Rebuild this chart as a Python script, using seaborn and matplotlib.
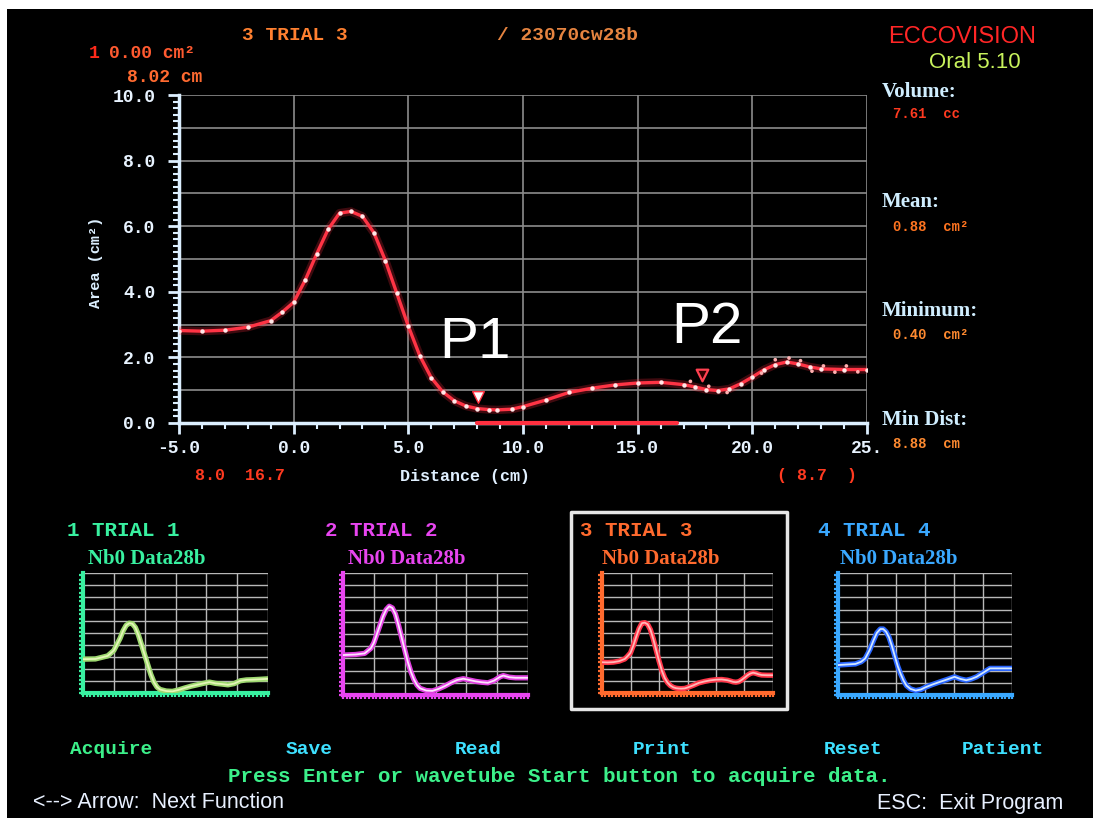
import numpy as np
import pandas as pd
import matplotlib
matplotlib.use("Agg")
import matplotlib.pyplot as plt
import matplotlib.font_manager as fm
from matplotlib.patches import Rectangle
import seaborn as sns

# ---------------- data ----------------
dist = [-5, -4, -3, -2, -1, -0.5, 0, 0.5, 1, 1.5, 2, 2.5, 3, 3.5, 4, 4.5, 5, 5.5, 6,
        6.5, 7, 7.5, 8, 8.5, 8.88, 9.5, 10, 11, 12, 13, 14, 15, 16, 17, 17.5, 18,
        18.5, 19, 19.5, 20, 20.5, 21, 21.5, 22, 22.5, 23, 24, 25]
area_trial3 = [2.82, 2.80, 2.83, 2.92, 3.12, 3.38, 3.68, 4.35, 5.15, 5.90, 6.40, 6.45,
               6.30, 5.80, 4.95, 3.95, 2.95, 2.05, 1.38, 0.95, 0.68, 0.52, 0.44, 0.41,
               0.40, 0.42, 0.50, 0.70, 0.93, 1.06, 1.16, 1.22, 1.24, 1.17, 1.10, 1.02,
               0.99, 1.04, 1.20, 1.40, 1.62, 1.78, 1.86, 1.80, 1.71, 1.65, 1.63, 1.63]

raw_x = [17.3, 18.1, 18.9, 20.4, 21.0, 21.6, 22.1, 22.6, 23.1, 23.6, 24.1, 24.6]
raw_y = [1.27, 1.12, 0.93, 1.52, 1.93, 1.98, 1.90, 1.58, 1.74, 1.55, 1.74, 1.56]

t1_x = [-5, -3, -1, 0, 1, 1.5, 2, 2.5, 3, 3.5, 4, 4.5, 5, 5.5, 6, 6.5, 7, 7.5, 8.5, 9.5,
        10.5, 11.5, 12.5, 13.5, 14.5, 15.5, 16.5, 17.5, 18.5, 19.5, 20.5, 21.5, 22.5,
        23.5, 25]
t1_y = [3.1, 3.12, 3.4, 3.9, 5.0, 5.7, 6.2, 6.4, 6.35, 6.0, 5.3, 4.4, 3.5, 2.6, 1.7,
        1.0, 0.55, 0.32, 0.18, 0.15, 0.28, 0.46, 0.62, 0.75, 0.88, 1.0, 0.88, 0.82,
        0.75, 0.86, 1.12, 1.2, 1.22, 1.25, 1.3]

t2_x = [-5, -3, -1.5, -0.5, 0, 0.5, 1, 1.5, 2, 2.5, 3, 3.5, 4, 4.5, 5, 5.5, 6, 6.5, 7,
        7.5, 8.5, 9.5, 10.5, 11.5, 12.5, 13.5, 14.5, 15.5, 16.5, 17.5, 18.5, 19.5,
        20.5, 21, 22, 23, 25]
t2_y = [3.6, 3.65, 3.75, 4.2, 4.7, 5.5, 6.3, 7.1, 7.7, 8.0, 7.85, 7.3, 6.3, 5.2, 4.1,
        3.0, 2.1, 1.4, 0.9, 0.6, 0.4, 0.37, 0.55, 0.8, 1.1, 1.35, 1.47, 1.35, 1.23,
        1.15, 1.1, 1.3, 1.65, 1.75, 1.6, 1.55, 1.55]

t4_x = [-5, -2, -1, -0.3, 0.5, 1.1, 1.7, 2.3, 2.8, 3.3, 3.8, 4.3, 4.8, 5.3, 5.8, 6.3,
        6.8, 7.5, 8.4, 9.3, 10.1, 11.3, 12.5, 13.8, 15.1, 16.1, 17.1, 18.0, 18.9, 20.0,
        21.2, 23, 25]
t4_y = [2.7, 2.8, 3.0, 3.3, 4.1, 4.9, 5.6, 5.95, 5.95, 5.7, 5.2, 4.4, 3.5, 2.6, 1.9,
        1.3, 0.85, 0.55, 0.4, 0.5, 0.7, 0.95, 1.17, 1.4, 1.64, 1.45, 1.33, 1.45, 1.64,
        2.0, 2.4, 2.4, 2.4]

x_ticks = [-5, 0, 5, 10, 15, 20, 25]
x_tick_labels = ["-5.0", "0.0", "5.0", "10.0", "15.0", "20.0", "25."]
y_ticks = [0, 2, 4, 6, 8, 10]
y_tick_labels = ["0.0", "2.0", "4.0", "6.0", "8.0", "10.0"]

span = [8.0, 16.7]          # highlighted distance range on the axis
cursor_p1 = (8.02, 0.80)
cursor_p2 = (17.8, 1.45)

# ---------------- fonts ----------------
def pick(*names):
    for n in names:
        try:
            fm.findfont(fm.FontProperties(family=n), fallback_to_default=False)
            return n
        except Exception:
            pass
    return "DejaVu Sans"

sns.set_theme(style="dark", rc={"axes.facecolor": "black", "figure.facecolor": "white"})
MONO = pick("Liberation Mono", "DejaVu Sans Mono")
SERIF = pick("Liberation Serif", "DejaVu Serif")
SANS = pick("Liberation Sans", "DejaVu Sans")
NARROW = pick("Liberation Sans Narrow", "Liberation Sans", "DejaVu Sans")
plt.rcParams["font.family"] = [SANS, "DejaVu Sans"]

W, H = 1100, 823
fig = plt.figure(figsize=(W / 100, H / 100), dpi=100)
fig.patch.set_facecolor("white")
fig.add_artist(Rectangle((7 / W, 5 / H), (1093 - 7) / W, (814 - 5) / H,
                         transform=fig.transFigure, facecolor="black",
                         edgecolor="none", zorder=-10))


def ftext(px, py, s, **kw):
    kw.setdefault("va", "center")
    fig.text(px / W, 1 - py / H, s, **kw)


def axes_px(left, right, top, bottom):
    return fig.add_axes([left / W, 1 - bottom / H, (right - left) / W, (bottom - top) / H])


GRID = "#8c8c8c"
AXIS = "#dcefff"

# ---------------- main trace ----------------
ax = axes_px(179, 867, 95, 423)
ax.set_facecolor("black")
ax.set_xlim(-5, 25)
ax.set_ylim(0, 10)
for gx in [0, 5, 10, 15, 20, 25]:
    ax.axvline(gx, color=GRID, lw=1.2, zorder=1)
for gy in range(1, 11):
    ax.axhline(gy, color=GRID, lw=1.2, zorder=1)

df3 = pd.DataFrame({"dist": dist, "area": area_trial3})
sns.lineplot(data=df3, x="dist", y="area", ax=ax, color="#ff2a3c", lw=6, alpha=0.25,
             zorder=3, legend=False)
sns.lineplot(data=df3, x="dist", y="area", ax=ax, color="#ff3445", lw=2.4,
             marker="o", markersize=3.2, markerfacecolor="#ffe8e8",
             markeredgecolor="none", zorder=4, legend=False)
sns.scatterplot(x=raw_x, y=raw_y, ax=ax, color="#ffb0b0", s=7, edgecolor="none", zorder=4)

ax.scatter([cursor_p1[0]], [cursor_p1[1]], marker="v", s=70, facecolor="white",
           edgecolor="#ff3040", linewidth=1, zorder=6)
ax.scatter([cursor_p2[0]], [cursor_p2[1]], marker="v", s=70, facecolor="#300000",
           edgecolor="#ff4050", linewidth=1.6, zorder=6)
ax.text(7.9, 2.45, "P1", fontsize=42, color="white", ha="center", va="center", family=SANS)
ax.text(18.0, 2.9, "P2", fontsize=42, color="white", ha="center", va="center", family=SANS)

for side in ["top", "right"]:
    ax.spines[side].set_visible(False)
for side in ["left", "bottom"]:
    ax.spines[side].set_visible(True)
    ax.spines[side].set_color(AXIS)
    ax.spines[side].set_linewidth(2.5)
ax.plot(span, [0, 0], color="#ff3040", lw=3, clip_on=False, zorder=7)

ax.set_xticks(x_ticks)
ax.set_xticklabels(x_tick_labels)
ax.set_yticks(y_ticks)
ax.set_yticklabels(y_tick_labels)
ax.set_xticks(np.arange(-5, 25.01, 1), minor=True)
ax.set_yticks(np.arange(0, 10.01, 0.2), minor=True)
ax.tick_params(which="major", direction="out", length=8, width=2, color=AXIS,
               labelcolor="#e8f3ff", labelsize=13, left=True, bottom=True)
ax.tick_params(axis="y", which="major", pad=9)
ax.tick_params(axis="x", which="major", pad=4)
ax.tick_params(which="minor", direction="out", length=4, width=1.5, color=AXIS,
               left=True, bottom=True)
for lab in ax.get_xticklabels() + ax.get_yticklabels():
    lab.set_fontfamily(MONO)
    lab.set_fontweight("bold")
ax.set_xlabel("")
ax.set_ylabel("")
ax.grid(False)

# ---------------- header and side read-outs ----------------
ftext(89, 54, "1", color="#ff2a1a", family=MONO, weight="bold", fontsize=13)
ftext(109, 54, "0.00 cm²", color="#ff5a30", family=MONO, weight="bold", fontsize=13)
ftext(127, 78, "8.02 cm", color="#ff6a30", family=MONO, weight="bold", fontsize=13)
ftext(242, 36, "3 TRIAL 3", color="#ff8030", family=MONO, weight="bold", fontsize=14)
ftext(497, 36, "/ 23070cw28b", color="#e68440", family=MONO, weight="bold", fontsize=14)
ftext(962, 37, "ECCOVISION", color="#ff2626", family=SANS, fontsize=17, ha="center")
ftext(975, 62, "Oral 5.10", color="#c8f25c", family=SANS, fontsize=16, ha="center")

side_labels = [("Volume:", 92, "7.61  cc", 114, "#ff3a20"),
               ("Mean:", 202, "0.88  cm²", 227, "#ff7420"),
               ("Minimum:", 311, "0.40  cm²", 335, "#ff8a30"),
               ("Min Dist:", 420, "8.88  cm", 444, "#ff8a30")]
for lab, ly, val, vy, vc in side_labels:
    ftext(882, ly, lab, color="#d0eeff", family=SERIF, weight="bold", fontsize=15)
    ftext(893, vy, val, color=vc, family=MONO, weight="bold", fontsize=10)

ftext(96, 262, "Area (cm²)", color=AXIS, family=MONO, weight="bold", fontsize=11,
      rotation=90, ha="center")
ftext(195, 476, f"{span[0]:.1f}  {span[1]:.1f}", color="#ff3a20", family=MONO,
      weight="bold", fontsize=12)
ftext(465, 476, "Distance (cm)", color="#e0f0ff", family=MONO, weight="bold",
      fontsize=12, ha="center")
ftext(777, 475, "( 8.7  )", color="#ff3a20", family=MONO, weight="bold", fontsize=12)

# ---------------- trial thumbnails ----------------
trials = [
    dict(rect=(83, 268, 573, 693), x=t1_x, y=t1_y, accent="#38f0a0",
         glow="#9ed870", core="#e4f6b8", title="1 TRIAL 1", tx=67, sx=88),
    dict(rect=(343, 528, 573, 695), x=t2_x, y=t2_y, accent="#e845f0",
         glow="#e040e0", core="#fde4fd", title="2 TRIAL 2", tx=325, sx=348),
    dict(rect=(602, 773, 573, 693), x=dist, y=area_trial3, accent="#ff6a2e",
         glow="#ff3548", core="#ffb8b8", title="3 TRIAL 3", tx=580, sx=602),
    dict(rect=(838, 1012, 573, 695), x=t4_x, y=t4_y, accent="#3aa8ff",
         glow="#2a66ff", core="#d2e8ff", title="4 TRIAL 4", tx=818, sx=840),
]

for t in trials:
    l, r, tp, b = t["rect"]
    a = axes_px(l, r, tp, b)
    a.set_facecolor("black")
    a.set_xlim(-5, 25)
    a.set_ylim(0, 11)
    for gx in [0, 5, 10, 15, 20, 25]:
        a.axvline(gx, color="#b8b8b8", lw=1, zorder=1)
    for gy in np.linspace(0, 11, 11)[1:]:
        a.axhline(gy, color="#b8b8b8", lw=1, zorder=1)
    dft = pd.DataFrame({"dist": t["x"], "area": t["y"]})
    sns.lineplot(data=dft, x="dist", y="area", ax=a, color=t["glow"], lw=3.8,
                 zorder=3, legend=False)
    sns.lineplot(data=dft, x="dist", y="area", ax=a, color=t["core"], lw=1.3,
                 zorder=4, legend=False)
    for side in ["top", "right"]:
        a.spines[side].set_visible(False)
    for side in ["left", "bottom"]:
        a.spines[side].set_visible(True)
        a.spines[side].set_color(t["accent"])
        a.spines[side].set_linewidth(3)
    a.set_xticks([])
    a.set_yticks([])
    a.set_xticks(np.arange(-5, 25.01, 0.6), minor=True)
    a.set_yticks(np.arange(0, 11.01, 0.4), minor=True)
    a.tick_params(which="minor", direction="out", length=3, width=1.6,
                  color=t["accent"], left=True, bottom=True)
    a.set_xlabel("")
    a.set_ylabel("")
    a.grid(False)
    ftext(t["tx"], 531, t["title"], color=t["accent"], family=MONO, weight="bold",
          fontsize=15)
    ftext(t["sx"], 559, "Nb0 Data28b", color=t["accent"], family=SERIF, weight="bold",
          fontsize=15)

fig.add_artist(Rectangle((571 / W, 1 - 709 / H), (787 - 571) / W, (709 - 512) / H,
                         transform=fig.transFigure, facecolor="none",
                         edgecolor="#e6e6e6", lw=2.5, joinstyle="round", zorder=5))

# ---------------- function bar ----------------
menu = [("Acquire", 111, "#3cf08a"), ("Save", 309, "#3ee0ff"), ("Read", 478, "#3ee0ff"),
        ("Print", 662, "#3ee0ff"), ("Reset", 853, "#3ee0ff"), ("Patient", 1003, "#3ee0ff")]
for name, cx, col in menu:
    ftext(cx, 750, name, color=col, family=MONO, weight="bold", fontsize=14, ha="center")
ftext(559, 776, "Press Enter or wavetube Start button to acquire data.", color="#3cf08a",
      family=MONO, weight="bold", fontsize=15, ha="center")
ftext(33, 803, "<--> Arrow:  Next Function", color="#e8f0ff", family=NARROW, fontsize=15.5)
ftext(1063, 803, "ESC:  Exit Program", color="#e8f0ff", family=NARROW, fontsize=15.5,
      ha="right")

fig.savefig("out.png", dpi=100, facecolor="white")
